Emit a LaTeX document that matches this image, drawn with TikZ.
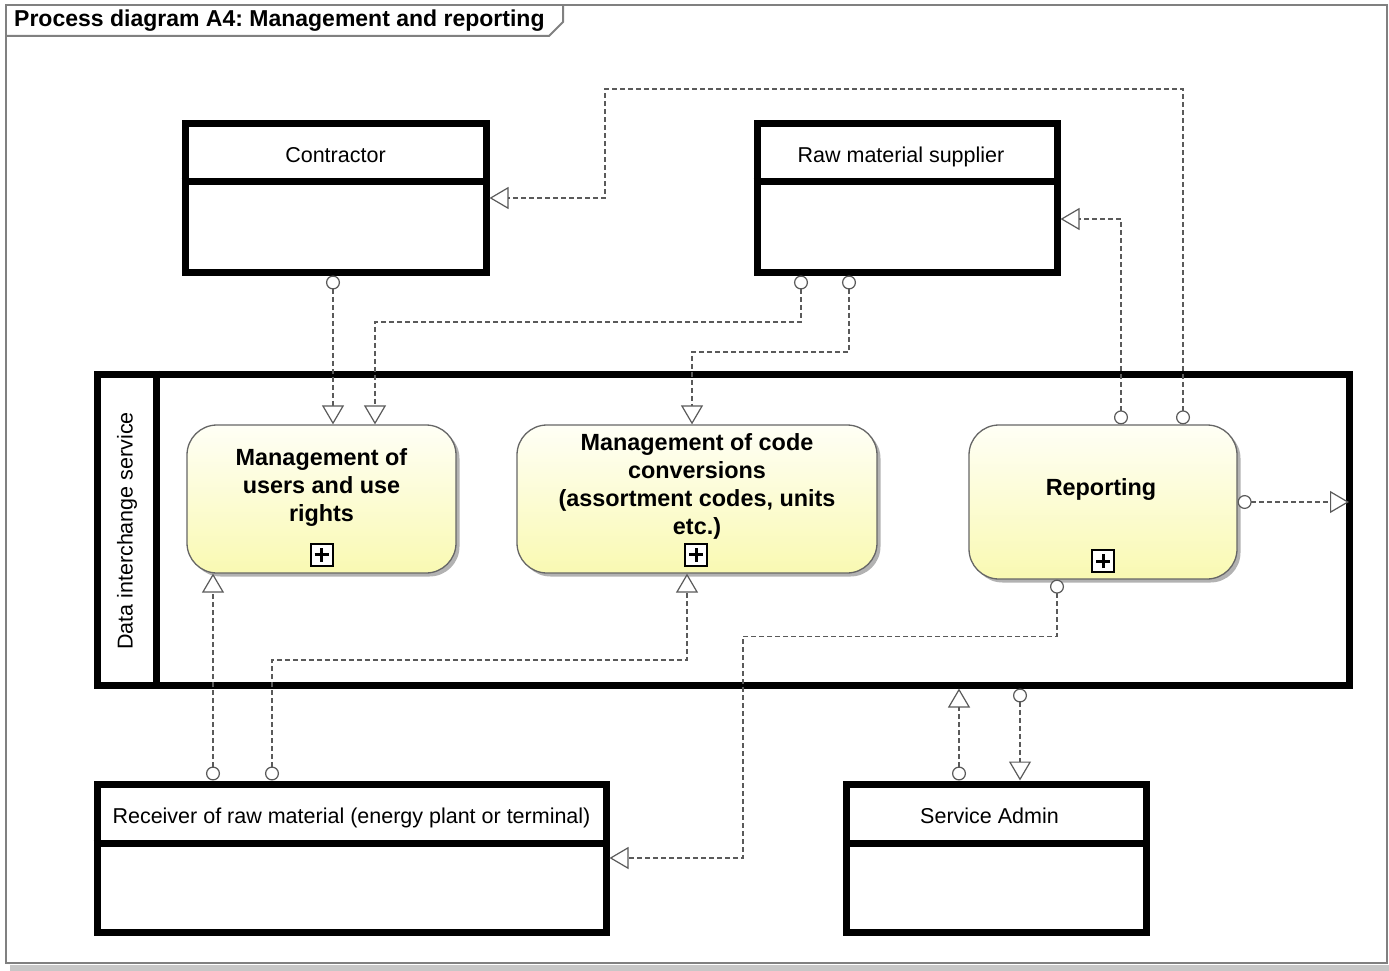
\documentclass[tikz,border=0pt]{standalone}
\usepackage{fontspec}
\setmainfont{Liberation Sans}
\usetikzlibrary{arrows.meta,calc,shadows}
\frenchspacing

\definecolor{connGray}{HTML}{5A5A5A}
\definecolor{frameGray}{HTML}{808080}
\definecolor{actTop}{HTML}{FFFFF6}
\definecolor{actBot}{HTML}{F9F9B2}
\definecolor{actEdge}{HTML}{666666}

\tikzset{
  lanebox/.style={draw=black, line width=7pt, inner sep=0pt},
  divider/.style={draw=black, line width=7pt},
  lanetext/.style={font=\fontsize{21.5}{26}\selectfont, text=black, inner sep=0pt, anchor=base},
  activity/.style={draw=actEdge, line width=1.3pt, rounded corners=30pt,
    top color=actTop, bottom color=actBot, inner sep=0pt,
    drop shadow={shadow xshift=3.5pt, shadow yshift=-3.5pt, fill=black!30, opacity=1}},
  acttext/.style={font=\bfseries\fontsize{23.4}{28}\selectfont, align=center, text=black, inner sep=0pt},
  subicon/.style={draw=black, line width=2pt, minimum size=22pt, inner sep=0pt, fill=white,
    path picture={
      \draw[line width=3pt] ([xshift=-7pt]path picture bounding box.center) -- ([xshift=7pt]path picture bounding box.center);
      \draw[line width=3pt] ([yshift=-7pt]path picture bounding box.center) -- ([yshift=7pt]path picture bounding box.center);
    }},
  conn/.style={draw=connGray, line width=1.2pt, dash pattern=on 5pt off 3pt,
    {Circle[length=14pt, width=14pt, fill=white]}-{Triangle[length=19pt, width=22pt, fill=white]}},
}

\begin{document}
\begin{tikzpicture}[x=1pt, y=-1pt]
  \useasboundingbox (0,0) rectangle (1389,971);

  % diagram frame with its name tab
  \fill[black!22] (10,965) rectangle (1389,971);
  \draw[frameGray, line width=2pt] (6,5) rectangle (1387,963);
  \draw[frameGray, line width=2pt] (6,36) -- (549,36) -- (563,22) -- (563,5);
  \node[anchor=west, font=\bfseries\fontsize{23}{27}\selectfont, inner sep=0pt] (title) at (14,21)
    {Process diagram A4: Management and reporting};

  % activities inside the service lane
  \node[activity, minimum width=269pt, minimum height=148pt] (a1) at (321.5,499) {};
  \node[acttext] (a1text) at ($(a1.center)+(0,-12)$) {Management of\\users and use\\rights};
  \node[subicon] (a1icon) at ($(a1.south)+(0,-19)$) {};

  \node[activity, minimum width=360pt, minimum height=148pt] (a2) at (697,499) {};
  \node[acttext] (a2text) at ($(a2.center)+(0,-13)$) {Management of code\\conversions\\(assortment codes, units\\etc.)};
  \node[subicon] (a2icon) at ($(a2.south)+(-1,-19)$) {};

  \node[activity, minimum width=268pt, minimum height=154pt] (a3) at (1103,502) {};
  \node[acttext] (a3text) at ($(a3.center)+(-2,-13)$) {Reporting};
  \node[subicon] (a3icon) at ($(a3.south)+(0,-18.5)$) {};

  % participant lanes
  \node[lanebox, minimum width=301pt, minimum height=148pt] (contractor) at (335.5,198) {};
  \draw[divider] ($(contractor.west)+(0,-17)$) -- ($(contractor.east)+(0,-17)$);
  \node[lanetext] (contractorLbl) at ($(contractor.north)+(0,41.5)$) {Contractor};

  \node[lanebox, minimum width=300pt, minimum height=148pt] (raw) at (907,198) {};
  \draw[divider] ($(raw.west)+(0,-17)$) -- ($(raw.east)+(0,-17)$);
  \node[lanetext] (rawLbl) at ($(raw.north)+(-6,41.5)$) {Raw material supplier};

  \node[lanebox, minimum width=1252pt, minimum height=311pt] (data) at (723,529.5) {};
  \draw[divider] ($(data.north west)+(62.5,0)$) -- ($(data.south west)+(62.5,0)$);
  \node[lanetext, rotate=90, anchor=center] (dataLbl) at ($(data.west)+(33.5,1.5)$) {Data interchange service};

  \node[lanebox, minimum width=509pt, minimum height=148pt] (receiver) at (351.5,858) {};
  \draw[divider] ($(receiver.west)+(0,-15)$) -- ($(receiver.east)+(0,-15)$);
  \node[lanetext] (receiverLbl) at ($(receiver.north)+(0,42.5)$) {Receiver of raw material (energy plant or terminal)};

  \node[lanebox, minimum width=300pt, minimum height=148pt] (sadmin) at (996.5,858) {};
  \draw[divider] ($(sadmin.west)+(0,-15)$) -- ($(sadmin.east)+(0,-15)$);
  \node[lanetext] (sadminLbl) at ($(sadmin.north)+(-7,42.5)$) {Service Admin};

  % connection points on the lanes and activities
  \coordinate (cS)   at ([xshift=-2.5pt]contractor.south);
  \coordinate (rS1)  at ([xshift=-106pt]raw.south);
  \coordinate (rS2)  at ([xshift=-58pt]raw.south);
  \coordinate (a1N2) at ([xshift=53.5pt]a1.north);
  \coordinate (a2N)  at ([xshift=-5pt]a2.north);
  \coordinate (a2S)  at ([xshift=-10pt]a2.south);
  \coordinate (a3N1) at ([xshift=18pt]a3.north);
  \coordinate (a3N2) at ([xshift=80pt]a3.north);
  \coordinate (a3S)  at ([xshift=-46pt]a3.south);
  \coordinate (dE)   at ([xshift=-3.5pt]data.east);
  \coordinate (dS)   at ([xshift=297pt]data.south);
  \coordinate (rcN1) at ([xshift=-138.5pt]receiver.north);
  \coordinate (rcN2) at ([xshift=-79.5pt]receiver.north);
  \coordinate (saN)  at ([xshift=-37.5pt]sadmin.north);
  \coordinate (bendC) at ($(contractor.east)+(115.5,0)$);
  \coordinate (bendR) at ($(receiver.east)+(133.5,0)$);

  % flows
  \draw[conn] (cS) -- (cS |- a1.north);
  \draw[conn] (rS1) -- ++(0,46.5) -| (a1N2);
  \draw[conn] (rS2) -- ++(0,76.5) -| (a2N);
  \draw[conn] (a3N1) |- ($(raw.east)+(0,21)$);
  \draw[conn] (a3N2) |- ($(bendC)+(0,-109)$) -- (bendC) -- (contractor.east);
  \draw[conn] (a3.east) -- (a3.east -| dE);
  \draw[conn] (a3S) -- ++(0,56.5) -| (bendR) -- (receiver.east);
  \draw[conn] (rcN1) -- (rcN1 |- a1.south);
  \draw[conn] (rcN2) -- ++(0,-120.5) -| (a2S);
  \draw[conn] (saN) -- (saN |- data.south);
  \draw[conn] (dS) -- (dS |- sadmin.north);
\end{tikzpicture}
\end{document}
